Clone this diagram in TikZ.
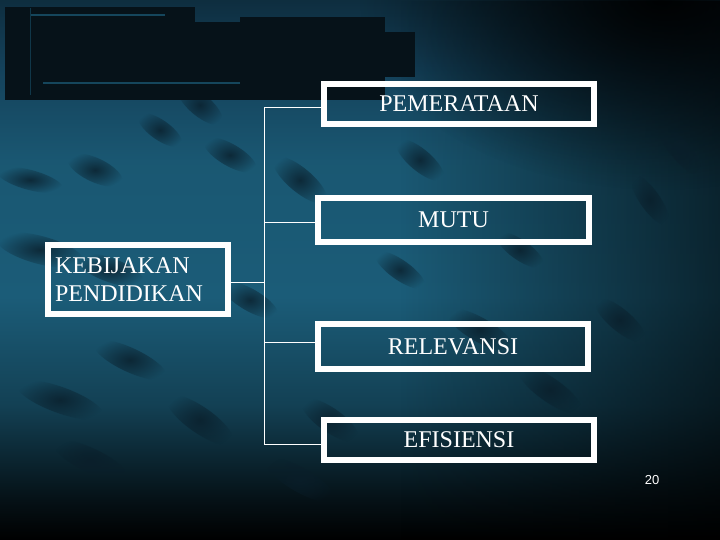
\documentclass[tikz,border=0pt]{standalone}
\usepackage{fontspec}
\setmainfont{Liberation Serif}
\newfontfamily\numfont{Liberation Sans}
\usetikzlibrary{fadings}
\definecolor{bgmid}{HTML}{1B5C78}
\definecolor{bgtop}{HTML}{14415A}
\definecolor{blockc}{HTML}{061219}
\definecolor{streak}{HTML}{0A1E2A}
\pgfdeclareverticalshading{bgsh}{100bp}{color(0bp)=(black); color(25bp)=(black); color(29bp)=(black!80!bgmid); color(37.5bp)=(bgmid!70!black); color(47.5bp)=(bgmid); color(60bp)=(bgmid!95!black); color(69bp)=(bgtop); color(75bp)=(bgtop!70!black); color(100bp)=(bgtop!70!black)}
\tikzfading[name=fade right, left color=transparent!100, right color=transparent!0]
\tikzfading[name=softblob, inner color=transparent!0, outer color=transparent!100]
\tikzset{
  box/.style={draw=white, line width=6pt, text=white, font=\fontsize{24}{28.5}\selectfont, inner sep=0pt},
  conn/.style={draw=white, line width=1pt},
}
\begin{document}
\begin{tikzpicture}[x=1pt,y=-1pt]
\useasboundingbox (0,0) rectangle (720,540);
% background (unflipped scope)
\begin{scope}[y=1pt]
\shade[shading=bgsh] (0,-540) rectangle (720,0);
\fill[black, opacity=0.6, path fading=fade right] (400,-540) rectangle (720,0);
\fill[black, opacity=0.9, path fading=softblob] (660,0) ellipse (300 and 190);
\foreach \x/\y/\a/\w/\h in {40/250/-15/45/14, 110/270/-20/36/12, 170/40/-30/30/11, 95/170/-25/30/12, 200/105/-40/28/11, 230/155/-30/30/11, 130/360/-25/40/12, 60/400/-20/46/13, 200/420/-35/40/13, 300/180/-40/34/12, 330/420/-35/34/12, 480/330/-30/38/12, 550/390/-35/38/12, 620/320/-40/32/11, 650/200/-55/30/10, 680/150/-50/32/10, 520/250/-35/28/10, 250/300/-30/32/11, 160/130/-35/26/10, 30/180/-15/34/10, 400/270/-35/30/10, 420/160/-40/30/11, 90/460/-25/40/12, 300/480/-30/40/12} {
  \fill[streak, opacity=0.8, path fading=softblob, rotate around={\a:(\x,-\y)}] (\x,-\y) ellipse ({\w} and {\h});
}
\end{scope}
% top dark blocks
\fill[blockc] (5,7) rectangle (195,100);
\fill[blockc] (195,22) rectangle (240,100);
\fill[blockc] (240,17) rectangle (385,100);
\fill[blockc] (385,32) rectangle (415,77);
\draw[color=bgmid!70!blockc, line width=1.5pt] (30,15) -- (165,15);
\draw[color=bgmid!70!blockc, line width=1.5pt] (43,83) -- (240,83);
\draw[color=bgmid!50!blockc, line width=1pt] (30,8) -- (30,95);
% boxes
\node[box, minimum width=270pt, minimum height=40pt] (P) at (459,104) {PEMERATAAN};
\node[box, minimum width=271pt, minimum height=44pt] (M) at (453.5,220) {MUTU};
\node[box, minimum width=180pt, minimum height=69pt, text width=166pt, align=left, inner xsep=7pt] (K) at (138,279.5) {KEBIJAKAN\\PENDIDIKAN};
\node[box, minimum width=270pt, minimum height=45pt] (R) at (453,346.5) {RELEVANSI};
\node[box, minimum width=270pt, minimum height=40pt] (E) at (459,440) {EFISIENSI};
% connectors
\coordinate (tP) at (264,108);
\coordinate (tM) at (264,223);
\coordinate (tK) at (264,282);
\coordinate (tR) at (264,342);
\coordinate (tE) at (264,444);
\draw[conn] (tP) -- (tE);
\draw[conn] (tP) -- (tP -| P.west);
\draw[conn] (tM) -- (tM -| M.west);
\draw[conn] (tR) -- (tR -| R.west);
\draw[conn] (tE) -- (tE -| E.west);
\draw[conn] (K.east |- tK) -- (tK);
% page number
\node[text=white, font=\numfont\fontsize{13}{15}\selectfont, inner sep=0pt] (pg) at (652,480) {20};
\end{tikzpicture}
\end{document}
